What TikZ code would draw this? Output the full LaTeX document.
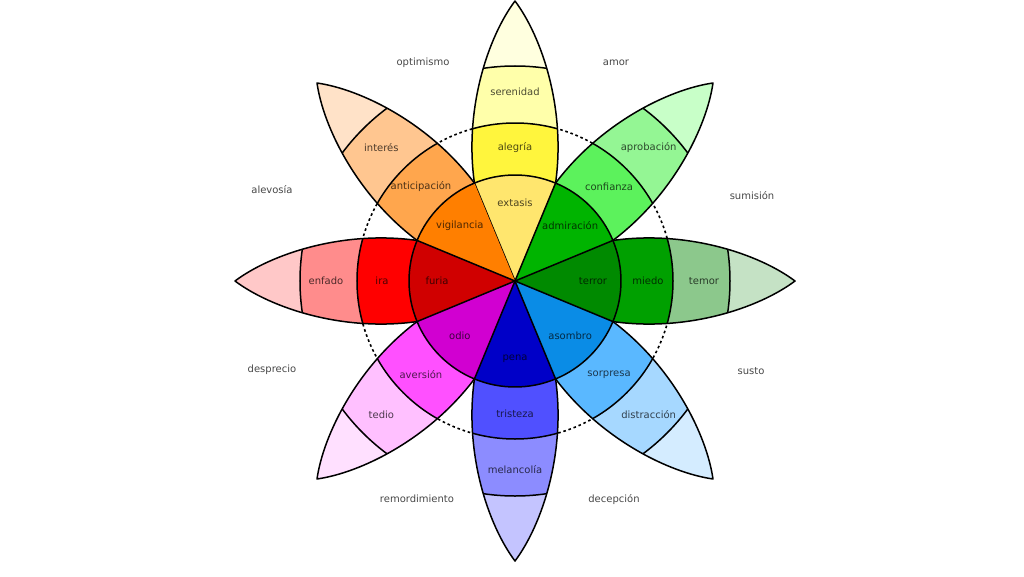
\documentclass[tikz,border=0pt]{standalone}
\usepackage{fontspec}
\setmainfont{DejaVu Sans}

% colours, from the centre outwards
\definecolor{yA}{HTML}{FFE66E}\definecolor{yB}{HTML}{FFF53D}\definecolor{yC}{HTML}{FFFFAA}\definecolor{yD}{HTML}{FFFFDF}
\definecolor{gA}{HTML}{00B400}\definecolor{gB}{HTML}{5CF25C}\definecolor{gC}{HTML}{94F694}\definecolor{gD}{HTML}{C8FFC8}
\definecolor{dA}{HTML}{008A00}\definecolor{dB}{HTML}{00A000}\definecolor{dC}{HTML}{8CC88C}\definecolor{dD}{HTML}{C5E2C5}
\definecolor{cA}{HTML}{0A8CE6}\definecolor{cB}{HTML}{5AB8FF}\definecolor{cC}{HTML}{A6D8FF}\definecolor{cD}{HTML}{D4ECFF}
\definecolor{bA}{HTML}{0000C8}\definecolor{bB}{HTML}{5050FF}\definecolor{bC}{HTML}{8C8CFF}\definecolor{bD}{HTML}{C4C4FF}
\definecolor{mA}{HTML}{D100D1}\definecolor{mB}{HTML}{FF50FF}\definecolor{mC}{HTML}{FFC0FF}\definecolor{mD}{HTML}{FFE0FF}
\definecolor{rA}{HTML}{D00000}\definecolor{rB}{HTML}{FF0000}\definecolor{rC}{HTML}{FF8C8C}\definecolor{rD}{HTML}{FFC8C8}
\definecolor{oA}{HTML}{FF7F00}\definecolor{oB}{HTML}{FFA64D}\definecolor{oC}{HTML}{FFC690}\definecolor{oD}{HTML}{FFE2C8}

\begin{document}
\begin{tikzpicture}[x=1pt,y=1pt,line join=round,
    edge/.style={line width=1.5pt},
    lbl/.style={font=\fontsize{10}{12}\selectfont,text=black,text opacity=0.7},
    dyad/.style={font=\fontsize{10}{12}\selectfont,text=black!72}]
    \useasboundingbox (-515,-295) rectangle (509,281);
    \def\petalpath{(22.5:106) .. controls (172,51) and (244,27) .. (280,0) .. controls (244,-27) and (172,-51) .. (-22.5:106) arc[start angle=-22.5,end angle=22.5,radius=106] -- cycle}
    \draw[line width=1.6pt,dash pattern=on 2.6pt off 2.8pt] (0,0) circle (158);
    % petals
    \foreach \ang/\cin/\cmid/\cout/\ctip in {90/yA/yB/yC/yD,45/gA/gB/gC/gD,0/dA/dB/dC/dD,-45/cA/cB/cC/cD,-90/bA/bB/bC/bD,-135/mA/mB/mC/mD,180/rA/rB/rC/rD,135/oA/oB/oC/oD}{
        \begin{scope}[rotate=\ang]
            \fill[\ctip] \petalpath;
            \begin{scope}
                \clip \petalpath;
                \fill[\cout] (0,0) circle (215);
                \fill[\cmid] (0,0) circle (158);
                \draw[edge] (0,0) circle (215) (0,0) circle (158);
            \end{scope}
            \fill[\cin] (0,0) -- (-22.5:106) arc[start angle=-22.5,end angle=22.5,radius=106] -- cycle;
            \draw[edge] \petalpath;
            \draw[edge] (0,0) -- (22.5:106);
        \end{scope}
    }
    % names inside the petals
    \foreach \ang/\lin/\lmid/\lout in {90/extasis/alegría/serenidad,45/admiración/confianza/aprobación,0/terror/miedo/temor,-45/asombro/sorpresa/distracción,-90/pena/tristeza/melancolía,-135/odio/aversión/tedio,180/furia/ira/enfado,135/vigilancia/anticipación/interés}{
        \node[lbl] (in\ang) at (\ang:78) {\lin};
        \node[lbl] (mid\ang) at (\ang:133) {\lmid};
        \node[lbl] (out\ang) at (\ang:189) {\lout};
    }
    % names between the petals
    \node[dyad] (optimismo) at (-92,218) {optimismo};
    \node[dyad] (amor) at (101,218) {amor};
    \node[dyad] (sumision) at (237,85) {sumisión};
    \node[dyad] (susto) at (236,-90) {susto};
    \node[dyad] (decepcion) at (99,-219) {decepción};
    \node[dyad] (remordimiento) at (-98,-218) {remordimiento};
    \node[dyad] (desprecio) at (-243,-89) {desprecio};
    \node[dyad] (alevosia) at (-243,91) {alevosía};
\end{tikzpicture}
\end{document}
